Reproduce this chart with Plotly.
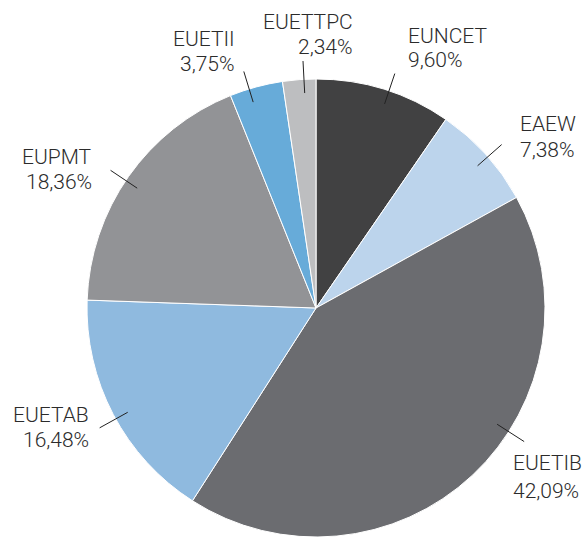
import math
import plotly.graph_objects as go

# ---- data ----
labels = ["EUNCET", "EAEW", "EUETIB", "EUETAB", "EUPMT", "EUETII", "EUETTPC"]
values = [9.60, 7.38, 42.09, 16.48, 18.36, 3.75, 2.34]
pct_text = ["9,60%", "7,38%", "42,09%", "16,48%", "18,36%", "3,75%", "2,34%"]

# ---- style / layout ----
colors = ["#414142", "#bcd4ec", "#6b6c70", "#8fbadf", "#929396", "#67abd9", "#bdbec0"]
W, H = 586, 537
CX, CY, R = 316, 308, 229
# leader-angle nudge (deg) relative to slice mid-angle
nudge = [1.3, 0.8, -14.2, -1.3, -1.2, -1.8, 1.2]
# label alignment and pixel offsets from leader end: (dx, dy_name, dy_pct)
align = ["left", "left", "left", "right", "right", "right", "right"]
offs = [(12, -38, -14), (17, -21, 5), (-12, 21, 49), (-10, -13, 12),
        (-18, -13, 12), (-8, -32, -7), (51, -39, -14)]
R_IN, R_OUT = 0.94, 1.08
FONT = "Roboto, 'Liberation Sans', Arial, sans-serif"
TXT = "#2b2b2b"


def px2paper(x, y):
    return x / W, 1 - y / H


fig = go.Figure(go.Pie(
    labels=labels, values=values, sort=False, direction="clockwise", rotation=0,
    marker=dict(colors=colors, line=dict(color="white", width=1)),
    textinfo="none", hoverinfo="label+percent", showlegend=False,
    domain=dict(x=[(CX - R) / W, (CX + R) / W],
                y=[max(0, 1 - (CY + R) / H), 1 - (CY - R) / H]),
))

total = sum(values)
cum = 0.0
shapes, annos = [], []
for i, v in enumerate(values):
    mid = (cum + v / 2) / total * 360.0
    cum += v
    a = math.radians(mid + nudge[i])
    x0, y0 = CX + R * R_IN * math.sin(a), CY - R * R_IN * math.cos(a)
    x1, y1 = CX + R * R_OUT * math.sin(a), CY - R * R_OUT * math.cos(a)
    p0, p1 = px2paper(x0, y0), px2paper(x1, y1)
    shapes.append(dict(type="line", xref="paper", yref="paper",
                       x0=p0[0], y0=p0[1], x1=p1[0], y1=p1[1],
                       line=dict(color="#222222", width=1)))
    dx, dyn, dyp = offs[i]
    for txt, dy in ((labels[i], dyn), (pct_text[i], dyp)):
        q = px2paper(x1 + dx, y1 + dy)
        annos.append(dict(x=q[0], y=q[1], xref="paper", yref="paper",
                          text=txt, showarrow=False, xanchor=align[i],
                          yanchor="middle", align=align[i], borderpad=0,
                          font=dict(family=FONT, size=21, color=TXT, weight=300)))

fig.update_layout(width=W, height=H, margin=dict(l=0, r=0, t=0, b=0),
                  paper_bgcolor="white", plot_bgcolor="white",
                  shapes=shapes, annotations=annos)
fig.write_html("out.html", config={"displayModeBar": False},
               post_script="document.body.style.margin='0';document.body.style.overflow='hidden';")
